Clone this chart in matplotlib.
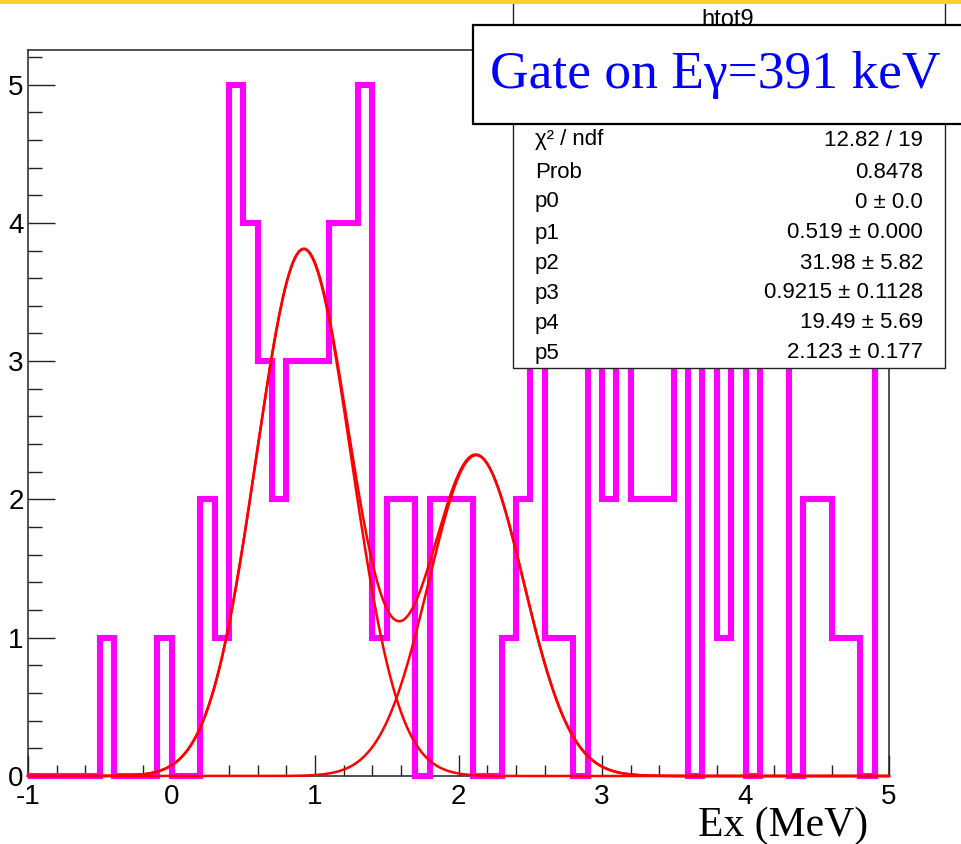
import numpy as np
import matplotlib
matplotlib.use("Agg")
import matplotlib.pyplot as plt
from matplotlib.patches import Rectangle

# ---------------- data ----------------
bin_lo, bin_hi, n_bins = -1.0, 5.0, 60
counts = [0, 0, 0, 0, 0, 1, 0, 0, 0, 1,
          0, 0, 2, 1, 5, 4, 3, 2, 3, 3,
          3, 4, 4, 5, 1, 2, 2, 0, 2, 2,
          2, 0, 0, 1, 2, 3, 1, 1, 0, 3,
          2, 3, 2, 2, 2, 3, 0, 3, 1, 3,
          0, 3, 3, 0, 2, 2, 1, 1, 0, 3]

peak_heights = [3.81, 2.32]
peak_means = [0.9215, 2.123]
peak_sigmas = [0.33, 0.33]

xtick_vals = [-1, 0, 1, 2, 3, 4, 5]
xtick_labels = ["-1", "0", "1", "2", "3", "4", "5"]
ytick_vals = [0, 1, 2, 3, 4, 5]
ytick_labels = ["0", "1", "2", "3", "4", "5"]

hist_name = "htot9"
stat_labels = ["\u03c7\u00b2 / ndf", "Prob", "p0", "p1", "p2", "p3", "p4", "p5"]
stat_values = ["12.82 / 19", "0.8478", "0 \u00b1 0.0", "0.519 \u00b1 0.000",
               "31.98 \u00b1 5.82", "0.9215 \u00b1 0.1128", "19.49 \u00b1 5.69",
               "2.123 \u00b1 0.177"]
gate_text = "Gate on E\u03b3=391 keV"
x_title = "Ex (MeV)"

# ---------------- figure ----------------
W, H = 961, 844
fig = plt.figure(figsize=(W / 100, H / 100), dpi=100)
fig.patch.set_facecolor("white")

def fx(px):
    return px / W

def fy(py):
    return 1 - py / H

sans = ["Liberation Sans", "DejaVu Sans"]
serif = ["Liberation Serif", "DejaVu Serif"]

ax_l, ax_r, ax_t, ax_b = 28, 889, 50, 776
ax = fig.add_axes([fx(ax_l), fy(ax_b), fx(ax_r) - fx(ax_l), fy(ax_t) - fy(ax_b)])
ax.set_xlim(-1, 5)
ax.set_ylim(0, 5.25)

edges = np.linspace(bin_lo, bin_hi, n_bins + 1)
ax.stairs(counts, edges, baseline=None, color="#ff00ff", linewidth=4.4,
          clip_on=False, zorder=3)

xf = np.linspace(-1, 5, 1201)
comps = [h * np.exp(-0.5 * ((xf - m) / s) ** 2)
         for h, m, s in zip(peak_heights, peak_means, peak_sigmas)]
total = comps[0] + comps[1]
for c in comps:
    ax.plot(xf, c, color="#ff0000", lw=1.8, clip_on=False, zorder=4)
ax.plot(xf, total, color="#ff0000", lw=1.8, clip_on=False, zorder=4)

for s in ax.spines.values():
    s.set_linewidth(1.1)
    s.set_color("#222222")
    s.set_zorder(1)

ax.set_xticks(xtick_vals)
ax.set_xticklabels(xtick_labels)
ax.set_xticks(np.arange(-1, 5.01, 0.2), minor=True)
ax.set_yticks(ytick_vals)
ax.set_yticklabels(ytick_labels)
ax.set_yticks(np.arange(0, 5.25, 0.2), minor=True)

ax.tick_params(axis="x", which="major", direction="in", length=15, width=1.0,
               pad=6, labelsize=20, color="#222222")
ax.tick_params(axis="x", which="minor", direction="in", length=8, width=1.0,
               color="#222222")
ax.tick_params(axis="y", which="major", direction="in", length=19.5, width=1.0,
               pad=3, labelsize=20, color="#222222")
ax.tick_params(axis="y", which="minor", direction="in", length=10, width=1.0,
               color="#222222")
for lab in ax.get_xticklabels() + ax.get_yticklabels():
    lab.set_family(sans)

# ---------------- stats box ----------------
sb_l, sb_r, sb_t, sb_b = 513, 945, -2, 368
fig.add_artist(Rectangle((fx(sb_l), fy(sb_b)), fx(sb_r) - fx(sb_l), fy(sb_t) - fy(sb_b),
                         transform=fig.transFigure, facecolor="white",
                         edgecolor="#222222", lw=1.0, zorder=5))
fig.text(fx(728), fy(9), hist_name, ha="center", va="top", fontsize=17,
         family=sans, zorder=6)
row_y = [140, 172, 202, 233, 263, 293, 323, 353]
for lab, val, yy in zip(stat_labels, stat_values, row_y):
    fig.text(fx(535), fy(yy), lab, ha="left", va="center", fontsize=16,
             family=sans, zorder=6)
    fig.text(fx(923), fy(yy), val, ha="right", va="center", fontsize=16,
             family=sans, zorder=6)

# ---------------- gate label box ----------------
gb_l, gb_r, gb_t, gb_b = 473, 975, 25, 124
fig.add_artist(Rectangle((fx(gb_l), fy(gb_b)), fx(gb_r) - fx(gb_l), fy(gb_t) - fy(gb_b),
                         transform=fig.transFigure, facecolor="white",
                         edgecolor="black", lw=1.6, zorder=7))
fig.text(fx(715), fy(88), gate_text, ha="center", va="baseline", fontsize=38.5,
         color="#0000ff", family=serif, zorder=8)

# ---------------- axis title ----------------
fig.text(fx(868), fy(836), x_title, ha="right", va="baseline", fontsize=30,
         color="black", family=serif, zorder=8)

# ---------------- top yellow band ----------------
fig.add_artist(Rectangle((0, fy(3.5)), 1, fy(0) - fy(3.5) + 0.01,
                         transform=fig.transFigure, facecolor="#ffd02a",
                         edgecolor="none", zorder=9))

fig.savefig("out.png", dpi=100)
